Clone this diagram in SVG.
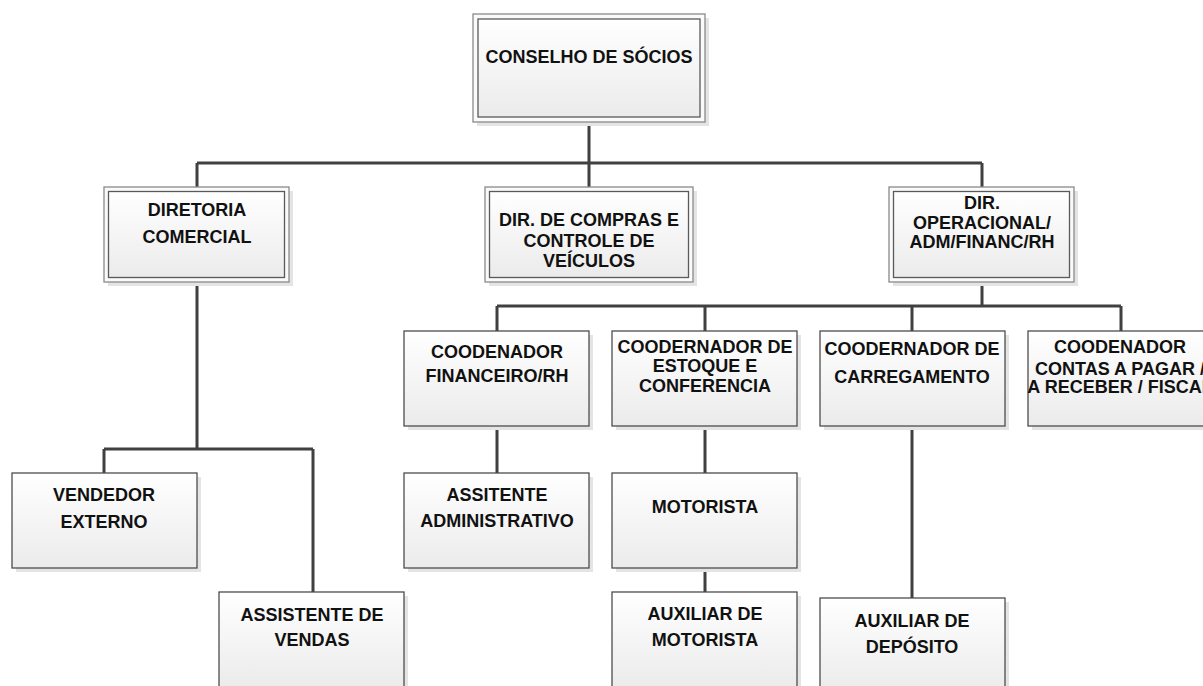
<svg xmlns="http://www.w3.org/2000/svg" width="1203" height="686" viewBox="0 0 1203 686">
<defs>
<linearGradient id="g" x1="0" y1="0" x2="0" y2="1">
<stop offset="0" stop-color="#ffffff"/>
<stop offset="1" stop-color="#ebebeb"/>
</linearGradient>
<style>
.sh{fill:#e4e4e4}
.box{fill:url(#g);stroke:#4d4d4d;stroke-width:1.3}
.outer{fill:#fafafa;stroke:#8a8a8a;stroke-width:1.3}
.inner{fill:url(#g);stroke:#5a5a5a;stroke-width:1.3}
.t{font-family:"Liberation Sans",Arial,sans-serif;font-weight:bold;font-size:18px;fill:#111;text-anchor:middle}
.c{fill:none;stroke:#404040;stroke-width:3}
</style>
</defs>
<rect width="1203" height="686" fill="#ffffff"/>
<g id="connectors">
<path class="c" d="M589 122V163M197 163H982M197 163V187M589 163V187M982 163V187"/>
<path class="c" d="M197 282V449M104 449H313M104 449V473M313 449V592"/>
<path class="c" d="M982 282V306M497 306H1121M497 306V331M705 306V331M912 306V331M1121 306V331"/>
<path class="c" d="M497 426V473M705 426V473M705 568V592M912 426V598"/>
</g>
<g id="conselho">
<rect class="sh" x="477" y="18" width="232" height="108"/>
<rect class="outer" x="473" y="14" width="232" height="108"/>
<rect class="inner" x="478" y="19" width="222" height="98"/>
<text class="t" x="589" y="63">CONSELHO DE SÓCIOS</text>
</g>
<g id="diretoria-comercial">
<rect class="sh" x="108" y="191" width="185" height="95"/>
<rect class="outer" x="104" y="187" width="185" height="95"/>
<rect class="inner" x="108.5" y="191.5" width="176" height="86"/>
<text class="t" x="197" y="216">DIRETORIA</text>
<text class="t" x="197" y="243">COMERCIAL</text>
</g>
<g id="dir-compras">
<rect class="sh" x="489" y="191" width="208" height="95"/>
<rect class="outer" x="485" y="187" width="208" height="95"/>
<rect class="inner" x="489.5" y="191.5" width="199" height="86"/>
<text class="t" x="589" y="226">DIR. DE COMPRAS E</text>
<text class="t" x="589" y="247">CONTROLE DE</text>
<text class="t" x="589" y="267">VEÍCULOS</text>
</g>
<g id="dir-operacional">
<rect class="sh" x="893" y="191" width="185" height="95"/>
<rect class="outer" x="889" y="187" width="185" height="95"/>
<rect class="inner" x="893.5" y="191.5" width="176" height="86"/>
<text class="t" x="982" y="209">DIR.</text>
<text class="t" x="982" y="229">OPERACIONAL/</text>
<text class="t" x="982" y="248">ADM/FINANC/RH</text>
</g>
<g id="coord-financeiro">
<rect class="sh" x="408" y="335" width="185" height="95"/>
<rect class="box" x="404" y="331" width="185" height="95"/>
<text class="t" x="497" y="358">COODENADOR</text>
<text class="t" x="497" y="382">FINANCEIRO/RH</text>
</g>
<g id="coord-estoque">
<rect class="sh" x="616" y="335" width="185" height="95"/>
<rect class="box" x="612" y="331" width="185" height="95"/>
<text class="t" x="705" y="353">COODERNADOR DE</text>
<text class="t" x="705" y="372">ESTOQUE E</text>
<text class="t" x="705" y="392">CONFERENCIA</text>
</g>
<g id="coord-carregamento">
<rect class="sh" x="824" y="335" width="185" height="95"/>
<rect class="box" x="820" y="331" width="185" height="95"/>
<text class="t" x="912" y="355">COODERNADOR DE</text>
<text class="t" x="912" y="383">CARREGAMENTO</text>
</g>
<g id="coord-contas">
<rect class="sh" x="1032" y="335" width="185" height="95"/>
<rect class="box" x="1028" y="331" width="185" height="95"/>
<text class="t" x="1120" y="353">COODENADOR</text>
<text class="t" x="1120" y="375">CONTAS A PAGAR /</text>
<text class="t" x="1120" y="393">A RECEBER / FISCAL</text>
</g>
<g id="vendedor-externo">
<rect class="sh" x="16" y="477" width="185" height="95"/>
<rect class="box" x="12" y="473" width="185" height="95"/>
<text class="t" x="104" y="501">VENDEDOR</text>
<text class="t" x="104" y="528">EXTERNO</text>
</g>
<g id="assistente-vendas">
<rect class="sh" x="223" y="596" width="185" height="95"/>
<rect class="box" x="219" y="592" width="185" height="95"/>
<text class="t" x="312" y="621">ASSISTENTE DE</text>
<text class="t" x="312" y="646">VENDAS</text>
</g>
<g id="assitente-administrativo">
<rect class="sh" x="408" y="477" width="185" height="95"/>
<rect class="box" x="404" y="473" width="185" height="95"/>
<text class="t" x="497" y="501">ASSITENTE</text>
<text class="t" x="497" y="527">ADMINISTRATIVO</text>
</g>
<g id="motorista">
<rect class="sh" x="616" y="477" width="185" height="95"/>
<rect class="box" x="612" y="473" width="185" height="95"/>
<text class="t" x="705" y="513">MOTORISTA</text>
</g>
<g id="auxiliar-motorista">
<rect class="sh" x="616" y="596" width="185" height="95"/>
<rect class="box" x="612" y="592" width="185" height="95"/>
<text class="t" x="705" y="620">AUXILIAR DE</text>
<text class="t" x="705" y="646">MOTORISTA</text>
</g>
<g id="auxiliar-deposito">
<rect class="sh" x="824" y="602" width="185" height="95"/>
<rect class="box" x="820" y="598" width="185" height="95"/>
<text class="t" x="912" y="627">AUXILIAR DE</text>
<text class="t" x="912" y="653">DEPÓSITO</text>
</g>
</svg>
